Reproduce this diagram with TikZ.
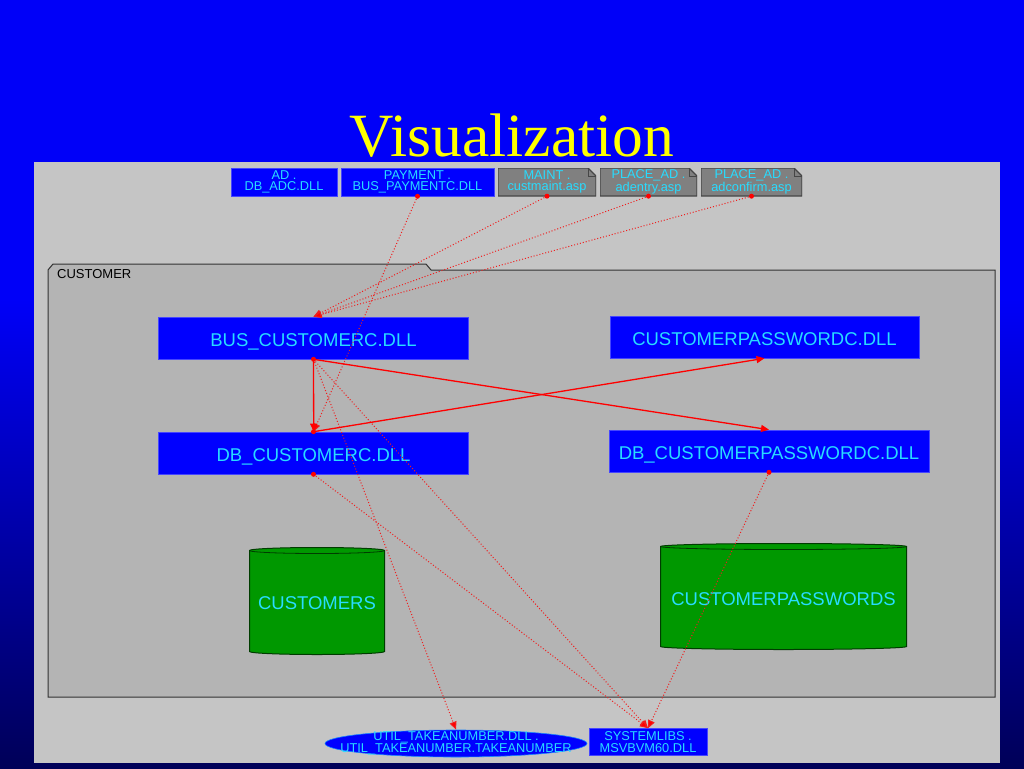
\documentclass[tikz,border=0pt]{standalone}
\usepackage{fontspec}
\setmainfont{Liberation Serif}
\setsansfont{Liberation Sans}
\usetikzlibrary{arrows.meta,shapes.geometric,calc}
\definecolor{bgblue}{RGB}{0,0,248}
\definecolor{bgnavy}{RGB}{0,0,88}
\definecolor{panel}{RGB}{197,197,197}
\definecolor{pkg}{RGB}{180,180,180}
\definecolor{pkgedge}{RGB}{50,50,50}
\definecolor{boxblue}{RGB}{0,0,255}
\definecolor{boxedge}{RGB}{70,70,255}
\definecolor{txtcyan}{RGB}{40,220,255}
\definecolor{notegray}{RGB}{128,128,128}
\definecolor{noteedge}{RGB}{70,70,70}
\definecolor{cylgreen}{RGB}{0,152,0}
\definecolor{cyledge}{RGB}{0,60,0}
\definecolor{depred}{RGB}{255,0,0}
\definecolor{dotred}{RGB}{240,30,30}
\definecolor{titleyellow}{RGB}{255,255,0}
\tikzset{
  titletext/.style={font=\rmfamily\fontsize{61.5pt}{70pt}\selectfont, text=titleyellow, inner sep=0},
  pkglabel/.style={font=\sffamily\fontsize{13pt}{14pt}\selectfont, text=black, inner sep=0},
  bigbox/.style={rectangle, fill=boxblue, draw=boxedge, line width=0.6pt, text=txtcyan, inner sep=0,
    text height=17pt, text depth=0pt,
    font=\sffamily\fontsize{18.5pt}{20pt}\selectfont},
  smallfont/.style={font=\sffamily\fontsize{12.8pt}{11.6pt}\selectfont, text=txtcyan, align=center},
  smallbox/.style={rectangle, fill=boxblue, draw=boxedge, line width=0.6pt, inner sep=0, minimum height=28, smallfont},
  notebox/.style={rectangle, inner sep=0, minimum height=28, smallfont,
    path picture={
      \filldraw[fill=notegray, draw=noteedge, line width=1.2pt]
        (path picture bounding box.south west) -- (path picture bounding box.north west)
        -- ([xshift=-8pt]path picture bounding box.north east)
        -- ([yshift=-8pt]path picture bounding box.north east)
        -- (path picture bounding box.south east) -- cycle;
      \draw[noteedge, line width=0.6pt] ([xshift=-8pt]path picture bounding box.north east)
        -- ([xshift=-8pt,yshift=-8pt]path picture bounding box.north east)
        -- ([yshift=-8pt]path picture bounding box.north east);
    }},
  cylnode/.style={rectangle, inner sep=0, text=txtcyan, font=\sffamily\fontsize{18.5pt}{20pt}\selectfont,
    text height=17pt, text depth=0pt,
    path picture={
      \filldraw[fill=cylgreen, draw=cyledge, line width=1pt]
        let \p1=(path picture bounding box.north west), \p2=(path picture bounding box.south east),
            \n1={(\x2-\x1)/2-0.5} in
        (\x1+0.5pt,\y1-3.5pt) -- (\x1+0.5pt,\y2+3.5pt)
        arc[start angle=180, end angle=360, x radius={\n1*1pt}, y radius=3pt]
        -- (\x2-0.5pt,\y1-3.5pt)
        arc[start angle=0, end angle=180, x radius={\n1*1pt}, y radius=3pt] -- cycle;
      \draw[cyledge, line width=0.8pt]
        let \p1=(path picture bounding box.north west), \p2=(path picture bounding box.south east),
            \n1={(\x2-\x1)/2-0.5} in
        (\x1+0.5pt,\y1-3.5pt) arc[start angle=180, end angle=360, x radius={\n1*1pt}, y radius=3pt];
    }},
  srcdot/.style={circle, fill=depred, draw=none, inner sep=0, minimum size=5pt},
  solidDep/.style={color=depred, line width=1.3pt, -{Triangle[length=8pt,width=7pt,fill=depred]}},
  dottedDep/.style={color=dotred, line width=1pt, dash pattern=on 1pt off 2pt,
    -{Triangle[length=8pt,width=7pt,fill=depred]}}
}
\begin{document}
\begin{tikzpicture}[x=1pt,y=-1pt]
\useasboundingbox (0,0) rectangle (1024,768);
% background
\fill[bgblue] (0,0) rectangle (1024,300);
\shade[top color=bgblue, bottom color=bgnavy] (0,299.5) rectangle (1024,768);
% title
\node[titletext, anchor=base] (title) at (512,156) {Visualization};
% panel
\fill[panel] (34,162) rectangle (1000,763);
% package
\filldraw[fill=pkg, draw=pkgedge, line width=1pt]
  (48,697) -- (48,270) -- (53,264) -- (426,264) -- (431,270) -- (995,270) -- (995,697) -- cycle;
\node[pkglabel, anchor=west] (pkgname) at (57,274) {CUSTOMER};
% top row
\node[smallbox, minimum width=106] (ad) at (284,182) {AD .\\DB\_ADC.DLL};
\node[smallbox, minimum width=153] (pay) at (417.5,182) {PAYMENT .\\BUS\_PAYMENTC.DLL};
\node[notebox, minimum width=98] (maint) at (547,182) {MAINT .\\custmaint.asp};
\node[notebox, minimum width=97] (adentry) at (648.5,182) {PLACE\_AD .\\adentry.asp};
\node[notebox, minimum width=101] (adconfirm) at (751.5,182) {PLACE\_AD .\\adconfirm.asp};
% package content
\node[bigbox, minimum width=310, minimum height=42] (bus) at (313.5,338) {BUS\_CUSTOMERC.DLL};
\node[bigbox, minimum width=309, minimum height=42] (cpw) at (764.5,337) {CUSTOMERPASSWORDC.DLL};
\node[bigbox, minimum width=310, minimum height=42] (db) at (313.5,453) {DB\_CUSTOMERC.DLL};
\node[bigbox, minimum width=320, minimum height=42] (dbpw) at (769,451) {DB\_CUSTOMERPASSWORDC.DLL};
\node[cylnode, minimum width=136, minimum height=108] (custs) at (317,601) {CUSTOMERS};
\node[cylnode, minimum width=247, minimum height=107] (custpw) at (783.5,596.5) {CUSTOMERPASSWORDS};
% bottom row
\node[ellipse, fill=boxblue, draw=txtcyan!60!boxblue, line width=0.6pt, inner sep=0,
  minimum width=262, minimum height=27,
  label={[smallfont, inner sep=0]center:{UTIL\_TAKEANUMBER.DLL .\\UTIL\_TAKEANUMBER.TAKEANUMBER}}]
  (util) at (456,743.5) {};
\node[smallbox, minimum width=118, minimum height=27] (sys) at (648,742) {SYSTEMLIBS .\\MSVBVM60.DLL};
% dotted dependencies
\draw[dottedDep] (pay.south) node[srcdot]{} -- (db.north);
\draw[dottedDep] (maint.south) node[srcdot]{} -- (bus.north);
\draw[dottedDep] (adentry.south) node[srcdot]{} -- (bus.north);
\draw[dottedDep] (adconfirm.south) node[srcdot]{} -- (bus.north);
\draw[dottedDep] (bus.south) -- (util.north);
\draw[dottedDep] (bus.south) -- (sys.north);
\draw[dottedDep] (db.south) node[srcdot]{} -- (sys.north);
\draw[dottedDep] (dbpw.south) node[srcdot]{} -- (sys.north);
% solid dependencies
\draw[solidDep] (bus.south) -- ([xshift=0.2pt]db.north);
\draw[solidDep] (bus.south) -- (dbpw.north);
\draw[solidDep] (db.north) -- (cpw.south);
\node[srcdot] (busdot) at (bus.south) {};
\node[srcdot] (dbdot) at (db.north) {};
\end{tikzpicture}
\end{document}
